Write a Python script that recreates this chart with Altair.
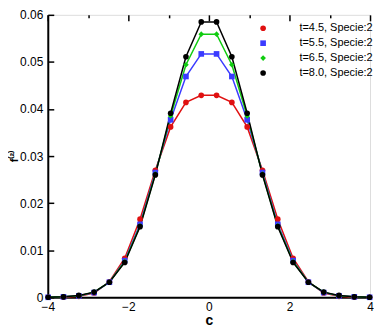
import altair as alt
import pandas as pd

c_vals = [-3.99, -3.61, -3.23, -2.85, -2.47, -2.09, -1.71, -1.33, -0.95, -0.57, -0.19,
          0.19, 0.57, 0.95, 1.33, 1.71, 2.09, 2.47, 2.85, 3.23, 3.61, 3.99]
f_t45 = [0.0000, 0.0000, 0.0002, 0.0009, 0.0033, 0.0083, 0.0166, 0.0270, 0.0362, 0.0414, 0.0429,
         0.0429, 0.0414, 0.0362, 0.0270, 0.0166, 0.0083, 0.0033, 0.0009, 0.0002, 0.0000, 0.0000]
f_t55 = [0.0000, 0.0001, 0.0003, 0.0010, 0.0032, 0.0078, 0.0155, 0.0265, 0.0377, 0.0469, 0.0517,
         0.0517, 0.0469, 0.0377, 0.0265, 0.0155, 0.0078, 0.0032, 0.0010, 0.0003, 0.0001, 0.0000]
f_t65 = [0.0000, 0.0001, 0.0003, 0.0011, 0.0032, 0.0076, 0.0152, 0.0262, 0.0385, 0.0494, 0.0559,
         0.0559, 0.0494, 0.0385, 0.0262, 0.0152, 0.0076, 0.0032, 0.0011, 0.0003, 0.0001, 0.0000]
f_t80 = [0.0000, 0.0001, 0.0004, 0.0011, 0.0032, 0.0074, 0.0150, 0.0260, 0.0391, 0.0511, 0.0585,
         0.0585, 0.0511, 0.0391, 0.0260, 0.0150, 0.0074, 0.0032, 0.0011, 0.0004, 0.0001, 0.0000]
series_names = ["t=4.5, Specie:2", "t=5.5, Specie:2", "t=6.5, Specie:2", "t=8.0, Specie:2"]
series_colors = ["#e01010", "#3a3aff", "#10cc10", "#000000"]
series_shapes = ["circle", "square", "diamond", "circle"]
y_ticks = [0, 0.01, 0.02, 0.03, 0.04, 0.05, 0.06]
x_ticks = [-4 + 0.5 * i for i in range(17)]

rows = []
for name, vals in zip(series_names, [f_t45, f_t55, f_t65, f_t80]):
    for c, f in zip(c_vals, vals):
        rows.append({"c": c, "f": f, "series": name})
df = pd.DataFrame(rows)

W, H = 324, 284
FONT = "Liberation Sans"
X_MAJOR = "datum.value % 2 == 0"

xscale = alt.Scale(domain=[-4, 4], nice=False, zero=False)
yscale = alt.Scale(domain=[0, 0.06], nice=False)
legend = alt.Legend(orient="none", legendX=211, legendY=8,
                    labelFont=FONT, labelFontSize=11, labelColor="black",
                    labelOffset=31, symbolSize=32, rowPadding=3,
                    symbolStrokeWidth=0)
color = alt.Color("series:N", title=None,
                  scale=alt.Scale(domain=series_names, range=series_colors),
                  legend=legend)
shape = alt.Shape("series:N", title=None,
                  scale=alt.Scale(domain=series_names, range=series_shapes),
                  legend=legend)

x_axis = alt.Axis(values=x_ticks, labelFont=FONT,
                  labelFontSize={"condition": {"test": X_MAJOR, "value": 12}, "value": 0},
                  labelColor="black", title="c", titleFont=FONT, titleFontSize=14,
                  titleFontWeight="bold", titleColor="black", titlePadding=1,
                  ticks=False, grid=True, gridColor="black", gridWidth=1.5,
                  gridDash={"condition": {"test": X_MAJOR, "value": [6, 2000]}, "value": [3, 2000]},
                  labelPadding=4, labelOverlap=False, labelFlush=False,
                  domainColor="black", domainWidth=2,
                  labelExpr=X_MAJOR + " ? format(datum.value, 'd') : ''")
y_axis = alt.Axis(values=y_ticks, labelFont=FONT, labelFontSize=12, labelColor="black",
                  title="f⁽²⁾", titleFont=FONT, titleFontSize=11, titleFontWeight="bold",
                  titleColor="black", titlePadding=0,
                  ticks=False, grid=True, gridColor="black", gridWidth=1.5,
                  gridDash=[6, 2000],
                  labelPadding=5, labelOverlap=False, labelFlush=False,
                  domainColor="black", domainWidth=2,
                  labelExpr="datum.value == 0 ? '0' : format(datum.value, '.2f')")

base = alt.Chart(df)
lines = base.mark_line(strokeWidth=1.5).encode(
    x=alt.X("c:Q", scale=xscale, axis=x_axis),
    y=alt.Y("f:Q", scale=yscale, axis=y_axis),
    color=color,
    detail="series:N",
)
points = base.mark_point(filled=True, opacity=1, size=32).encode(
    x=alt.X("c:Q", scale=xscale),
    y=alt.Y("f:Q", scale=yscale),
    color=color, shape=shape,
)

chart = alt.layer(lines, points).properties(
    width=W, height=H, padding={"left": 0, "top": 0, "right": 0, "bottom": 0}
).configure_view(stroke=None).configure_axis(labelOverlap=False).configure(background="white")

chart.save("out.html", embed_options={"renderer": "svg", "actions": False})
